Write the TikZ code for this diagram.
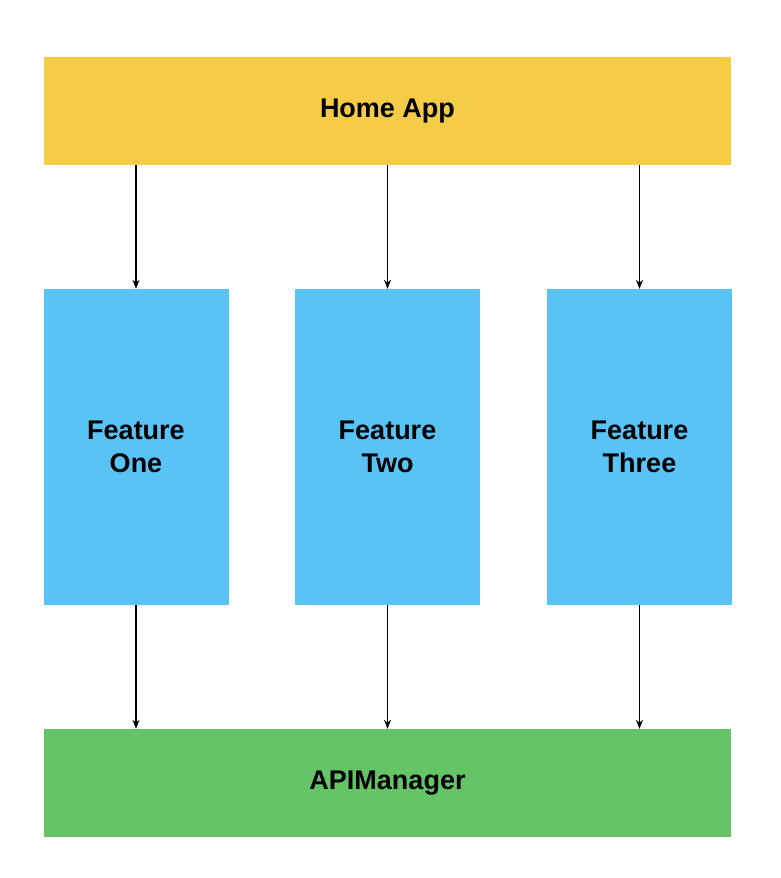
\documentclass[tikz,border=0pt]{standalone}
\usepackage{fontspec}
\setmainfont{Liberation Sans}
\usetikzlibrary{arrows.meta}
\definecolor{homeyellow}{HTML}{F5CB47}
\definecolor{featblue}{HTML}{5AC3F6}
\definecolor{apigreen}{HTML}{65C466}
\begin{document}
\begin{tikzpicture}[
    x=1pt, y=-1pt,
    box/.style={rectangle, inner sep=0pt, font=\fontsize{27}{33}\selectfont\bfseries, align=center},
    wide/.style={box, minimum width=687pt, minimum height=108pt},
    feat/.style={box, fill=featblue, minimum width=185pt, minimum height=316pt},
    link/.style={-{Stealth[length=9pt,width=7pt]}, line width=1.3pt}
]
\useasboundingbox (0,0) rectangle (780,878);
% layers
\node[wide, fill=homeyellow] (home) at (387.5,111) {Home App};
\node[feat] (one) at (136,447) {Feature\\One};
\node[feat] (two) at (387.5,447) {Feature\\Two};
\node[feat] (three) at (639.5,447) {Feature\\Three};
\node[wide, fill=apigreen] (api) at (387.5,783) {APIManager};
% arrows
\foreach \f in {one,two,three} {
    \draw[link] (\f.north |- home.south) -- (\f.north);
    \draw[link] (\f.south) -- (\f.south |- api.north);
}
\end{tikzpicture}
\end{document}
